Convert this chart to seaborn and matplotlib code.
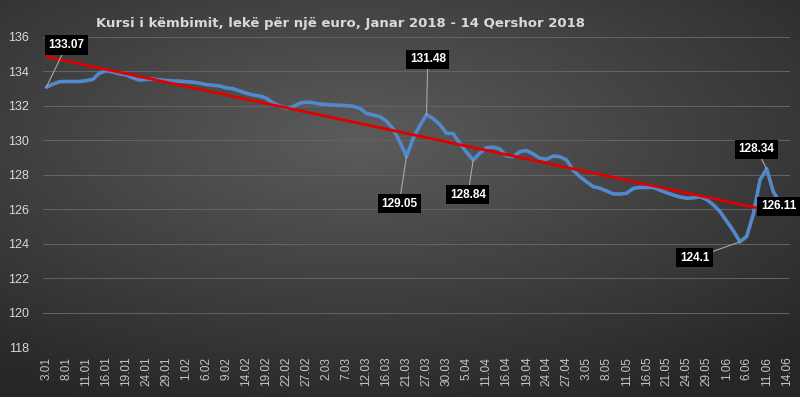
import numpy as np
import pandas as pd
import matplotlib
matplotlib.use("Agg")
import matplotlib.pyplot as plt
import seaborn as sns

# Exchange rate, lek per euro, trading days 3 Jan - 14 Jun 2018
rate = [133.07, 133.25, 133.39, 133.40, 133.40, 133.40, 133.45, 133.53, 133.90, 134.02,
        133.95, 133.85, 133.78, 133.60, 133.48, 133.52, 133.53, 133.50, 133.46, 133.43,
        133.42, 133.39, 133.36, 133.30, 133.22, 133.18, 133.14, 133.03, 132.98, 132.85,
        132.72, 132.62, 132.56, 132.43, 132.15, 131.98, 131.85, 131.94, 132.14, 132.20,
        132.17, 132.09, 132.06, 132.04, 132.02, 132.00, 131.96, 131.85, 131.55, 131.46,
        131.36, 131.10, 130.65, 129.90, 129.05, 130.10, 130.85, 131.48, 131.25, 130.90,
        130.40, 130.38, 129.80, 129.30, 128.84, 129.25, 129.55, 129.60, 129.48, 129.08,
        129.04, 129.33, 129.40, 129.20, 128.95, 128.89, 129.08, 129.04, 128.85, 128.25,
        127.88, 127.58, 127.30, 127.21, 127.05, 126.88, 126.87, 126.92, 127.20, 127.26,
        127.25, 127.26, 127.10, 126.95, 126.82, 126.70, 126.63, 126.65, 126.72, 126.55,
        126.25, 125.86, 125.30, 124.75, 124.10, 124.41, 125.70, 127.69, 128.34, 127.00,
        126.40, 126.11]

# linear trend line as drawn on the chart (value at first and last day)
trend_vals = [134.84, 125.70]

# every third trading day is labelled on the axis
tick_labels = ["3.01", "8.01", "11.01", "16.01", "19.01", "24.01", "29.01", "1.02", "6.02",
               "9.02", "14.02", "19.02", "22.02", "27.02", "2.03", "7.03", "12.03", "16.03",
               "21.03", "27.03", "30.03", "5.04", "11.04", "16.04", "19.04", "24.04", "27.04",
               "3.05", "8.05", "11.05", "16.05", "21.05", "24.05", "29.05", "1.06", "6.06",
               "11.06", "14.06"]

# labelled points: (index, text, box position in data coords)
callouts = [(0, "133.07", 3.05, 135.52),
            (57, "131.48", 57.2, 134.68),
            (54, "129.05", 52.9, 126.30),
            (64, "128.84", 63.2, 126.82),
            (108, "128.34", 106.5, 129.46),
            (104, "124.1", 97.2, 123.17),
            (111, "126.11", 109.8, 126.16)]

df = pd.DataFrame({"idx": np.arange(len(rate)), "rate": rate})
trend = pd.DataFrame({"idx": [0, len(rate) - 1], "rate": trend_vals})

sns.set_theme(style="dark")
plt.rcParams["font.family"] = ["Liberation Sans", "DejaVu Sans"]

fig = plt.figure(figsize=(8, 3.97), dpi=100)

# dark radial gradient background
bg = fig.add_axes([0, 0, 1, 1], zorder=-5)
gx, gy = np.meshgrid(np.linspace(0, 1, 400), np.linspace(0, 1, 200))
r = np.sqrt(((gx - 0.45) / 1.0) ** 2 + ((gy - 0.35) / 0.9) ** 2)
shade = np.clip(0.36 - 0.26 * r, 0.15, 0.36)
bg.imshow(np.dstack([shade, shade, shade]), aspect="auto", extent=[0, 1, 0, 1])
bg.axis("off")

ax = fig.add_axes([0.05375, 0.1259, 0.93375, 0.7817])
ax.set_facecolor("none")

sns.lineplot(data=df, x="idx", y="rate", ax=ax, color="#5289cc", lw=2.6)
sns.lineplot(data=trend, x="idx", y="rate", ax=ax, color="#e00000", lw=2.0)

ax.set_xlim(-0.5, len(rate) - 0.5)
ax.set_ylim(118, 136)
ax.set_yticks(np.arange(118, 137, 2))
ax.set_xticks(np.arange(0, len(rate), 3))
ax.set_xticklabels(tick_labels, rotation=90)
ax.tick_params(axis="y", colors="#d9d9d9", labelsize=9, length=0, pad=10)
ax.tick_params(axis="x", colors="#c4c4c4", labelsize=8.5, length=0, pad=7)
ax.grid(axis="y", color="#646464", lw=0.7)
ax.grid(axis="x", visible=False)
for s in ax.spines.values():
    s.set_visible(False)
ax.set_xlabel("")
ax.set_ylabel("")

for i, txt, bx, by in callouts:
    arrow = None if txt == "126.11" else dict(arrowstyle="-", color="#a8a8a8", lw=0.8,
                                              shrinkA=0, shrinkB=0)
    ax.annotate(txt, xy=(i, rate[i]), xytext=(bx, by), textcoords="data",
                ha="center", va="center", color="white", fontsize=8.5, fontweight="bold",
                bbox=dict(boxstyle="square,pad=0.3", fc="black", ec="none"),
                arrowprops=arrow, zorder=5)

fig.text(0.426, 0.942, "Kursi i këmbimit, lekë për një euro, Janar 2018 - 14 Qershor 2018",
         ha="center", va="center", color="#d9d9d9", fontsize=9.5, fontweight="bold",
         family="DejaVu Sans")

fig.savefig("out.png", dpi=100)
